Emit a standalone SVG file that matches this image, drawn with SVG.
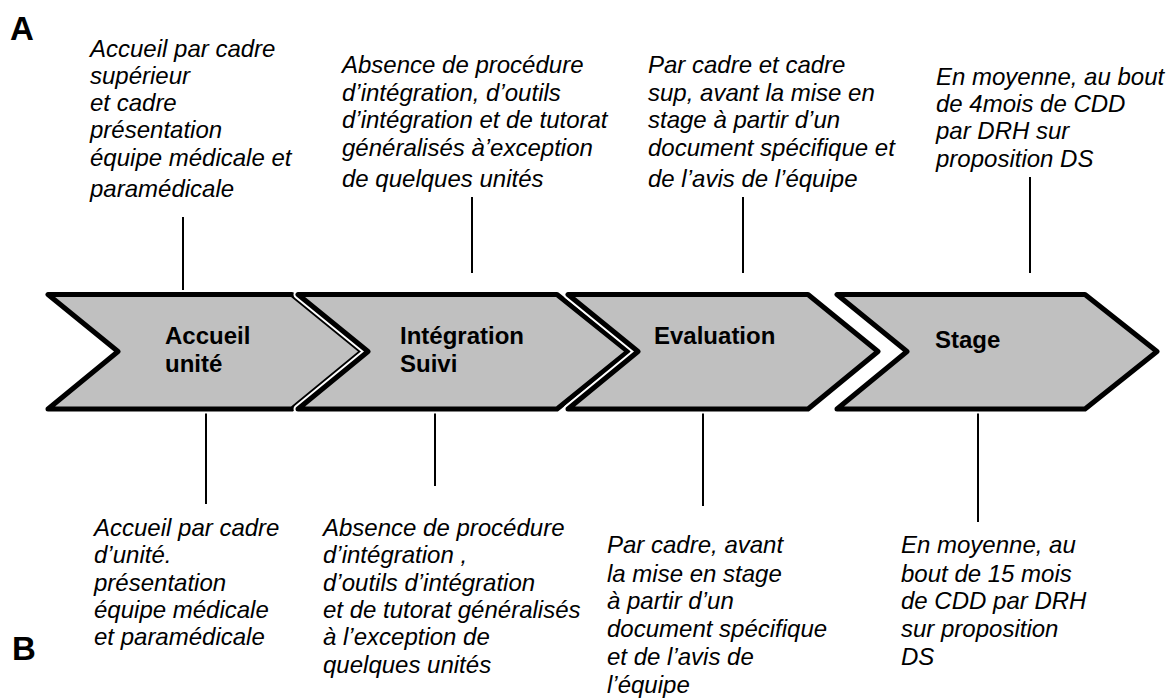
<svg xmlns="http://www.w3.org/2000/svg" width="1170" height="699" viewBox="0 0 1170 699">
<style>
.bg{fill:#ffffff}
.halo{fill:none;stroke:#ffffff;stroke-width:9;stroke-linejoin:round}
.chev{fill:#c0c0c0;stroke:#000000;stroke-width:5;stroke-linejoin:round}
.lbl{font-family:"Liberation Sans",Arial,sans-serif;font-weight:bold;font-size:24px;fill:#000}
.note{font-family:"Liberation Sans",Arial,sans-serif;font-style:italic;font-size:24px;fill:#000}
.tag{font-family:"Liberation Sans",Arial,sans-serif;font-weight:bold;font-size:33px;fill:#000}
.con{stroke:#000;stroke-width:2;fill:none}
</style>
<rect class="bg" x="0" y="0" width="1170" height="699"/>
<text class="tag" x="10" y="40">A</text>
<text class="tag" x="12" y="660">B</text>

<g id="connectors">
<line class="con" x1="183" y1="217" x2="183" y2="294"/>
<line class="con" x1="472" y1="197" x2="472" y2="273"/>
<line class="con" x1="743" y1="197" x2="743" y2="273"/>
<line class="con" x1="1030" y1="177" x2="1030" y2="273"/>
<line class="con" x1="206" y1="409" x2="206" y2="504"/>
<line class="con" x1="435" y1="409" x2="435" y2="486"/>
<line class="con" x1="703" y1="409" x2="703" y2="506"/>
<line class="con" x1="978" y1="409" x2="978" y2="522"/>
</g>

<g id="node-accueil">
<path class="halo" d="M48,294.5 L292,294.5 L362,351.5 L292,409 L48,409 L118,351.5 Z"/>
<path class="chev" d="M48,294.5 L292,294.5 L362,351.5 L292,409 L48,409 L118,351.5 Z"/>
<text class="lbl" x="165" y="344">Accueil</text>
<text class="lbl" x="165" y="372">unité</text>
</g>
<g id="node-integration">
<path class="halo" d="M298,294.5 L557,294.5 L628,351.5 L557,409 L298,409 L368,351.5 Z"/>
<path class="chev" d="M298,294.5 L557,294.5 L628,351.5 L557,409 L298,409 L368,351.5 Z"/>
<text class="lbl" x="400" y="344">Intégration</text>
<text class="lbl" x="400" y="372">Suivi</text>
</g>
<g id="node-evaluation">
<path class="halo" d="M568,294.5 L808,294.5 L878,351.5 L808,409 L568,409 L638,351.5 Z"/>
<path class="chev" d="M568,294.5 L808,294.5 L878,351.5 L808,409 L568,409 L638,351.5 Z"/>
<text class="lbl" x="654" y="344">Evaluation</text>
</g>
<g id="node-stage">
<path class="halo" d="M837,294.5 L1085,294.5 L1157,351.5 L1085,409 L837,409 L907,351.5 Z"/>
<path class="chev" d="M837,294.5 L1085,294.5 L1157,351.5 L1085,409 L837,409 L907,351.5 Z"/>
<text class="lbl" x="935" y="348">Stage</text>
</g>

<g id="note-a1">
<text class="note" x="90" y="57">Accueil par cadre</text>
<text class="note" x="90" y="84">supérieur</text>
<text class="note" x="90" y="111">et cadre</text>
<text class="note" x="90" y="138">présentation</text>
<text class="note" x="90" y="166">équipe médicale et</text>
<text class="note" x="90" y="197">paramédicale</text>
</g>
<g id="note-a2">
<text class="note" x="342" y="73">Absence de procédure</text>
<text class="note" x="342" y="101">d’intégration, d’outils</text>
<text class="note" x="342" y="128">d’intégration et de tutorat</text>
<text class="note" x="342" y="156">généralisés à’exception</text>
<text class="note" x="342" y="187">de quelques unités</text>
</g>
<g id="note-a3">
<text class="note" x="648" y="73">Par cadre et cadre</text>
<text class="note" x="648" y="101">sup, avant la mise en</text>
<text class="note" x="648" y="128">stage à partir d’un</text>
<text class="note" x="648" y="156">document spécifique et</text>
<text class="note" x="648" y="187">de l’avis de l’équipe</text>
</g>
<g id="note-a4">
<text class="note" x="936" y="85">En moyenne, au bout</text>
<text class="note" x="936" y="112">de 4mois de CDD</text>
<text class="note" x="936" y="139">par DRH  sur</text>
<text class="note" x="936" y="167">proposition DS</text>
</g>

<g id="note-b1">
<text class="note" x="94" y="536">Accueil par cadre</text>
<text class="note" x="94" y="563">d’unité.</text>
<text class="note" x="94" y="591">présentation</text>
<text class="note" x="94" y="618">équipe médicale</text>
<text class="note" x="94" y="645">et paramédicale</text>
</g>
<g id="note-b2">
<text class="note" x="323" y="536">Absence de procédure</text>
<text class="note" x="323" y="563">d’intégration ,</text>
<text class="note" x="323" y="591">d’outils d’intégration</text>
<text class="note" x="323" y="618">et de tutorat généralisés</text>
<text class="note" x="323" y="645">à l’exception de</text>
<text class="note" x="323" y="673">quelques unités</text>
</g>
<g id="note-b3">
<text class="note" x="607" y="553">Par cadre, avant</text>
<text class="note" x="607" y="582">la mise en stage</text>
<text class="note" x="607" y="609">à partir d’un</text>
<text class="note" x="607" y="637">document spécifique</text>
<text class="note" x="607" y="665">et de l’avis de</text>
<text class="note" x="607" y="693">l’équipe</text>
</g>
<g id="note-b4">
<text class="note" x="901" y="553">En moyenne, au</text>
<text class="note" x="901" y="582">bout de 15 mois</text>
<text class="note" x="901" y="609">de CDD par DRH</text>
<text class="note" x="901" y="637">sur proposition</text>
<text class="note" x="901" y="665">DS</text>
</g>
</svg>
